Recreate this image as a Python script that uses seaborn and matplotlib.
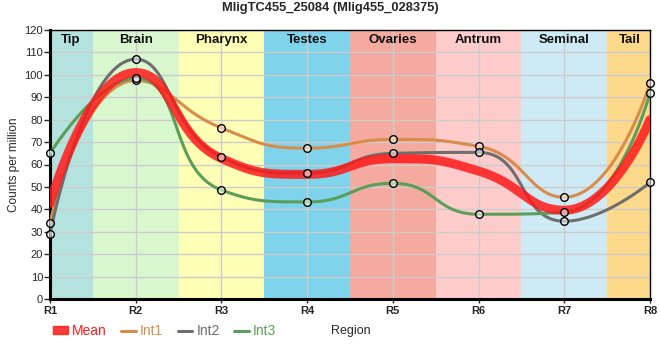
import numpy as np
import pandas as pd
import matplotlib
matplotlib.use("Agg")
import matplotlib.pyplot as plt
import seaborn as sns
from matplotlib.patches import Patch
from matplotlib.lines import Line2D

# data
regions = ["R1", "R2", "R3", "R4", "R5", "R6", "R7", "R8"]
mean_vals = [42.7, 101.0, 62.7, 55.6, 62.6, 57.1, 39.6, 80.0]
int1_vals = [34.0, 97.5, 76.3, 67.3, 71.2, 68.1, 45.4, 96.2]
int2_vals = [29.0, 107.0, 63.3, 56.1, 65.0, 65.4, 34.7, 52.0]
int3_vals = [65.0, 98.5, 48.6, 43.3, 51.6, 37.8, 38.7, 91.9]

band_names = ["Tip", "Brain", "Pharynx", "Testes", "Ovaries", "Antrum", "Seminal", "Tail"]
band_colors = ["#b4e2de", "#d9f7cf", "#ffffb5", "#7fd4ec", "#f4aa9e", "#ffcccc", "#ceeaf5", "#fdd98b"]

c_mean, c_int1, c_int2, c_int3 = "#ff1a1a", "#d98c4a", "#6e6e6e", "#5a9e5a"


def smooth_path(ax, xd, yd, smooth=0.5, n=40):
    # bezier smoothing done in pixel space, control points clamped
    # so the curve never overshoots a point (flat at local extremes)
    pts = ax.transData.transform(np.column_stack([xd, yd]))
    X, Y = pts[:, 0], pts[:, 1]
    out = [pts[:1]]
    cp0 = pts[0].copy()
    t = np.linspace(0, 1, n)[1:, None]
    for i in range(1, len(pts)):
        x, y = X[i], Y[i]
        px, py = X[i - 1], Y[i - 1]
        if i == len(pts) - 1:
            cp1 = np.array([x, y])
            ncp0 = None
        else:
            nx, ny = X[i + 1], Y[i + 1]
            vx, vy = nx - px, ny - py
            lp = np.hypot(x - px, y - py)
            ln = np.hypot(nx - x, ny - y)
            r = ln / (ln + lp)
            ncx = x + vx * smooth * r
            ncy = y + vy * smooth * r
            ncx = max(min(ncx, max(nx, x)), min(nx, x))
            ncy = max(min(ncy, max(ny, y)), min(ny, y))
            vx, vy = ncx - x, ncy - y
            c1x = x - vx * lp / ln
            c1y = y - vy * lp / ln
            c1x = max(min(c1x, max(px, x)), min(px, x))
            c1y = max(min(c1y, max(py, y)), min(py, y))
            vx, vy = x - c1x, y - c1y
            cp1 = np.array([c1x, c1y])
            ncp0 = np.array([x + vx * ln / lp, y + vy * ln / lp])
        p0 = np.array([px, py])
        p1 = np.array([x, y])
        seg = (1 - t) ** 3 * p0 + 3 * (1 - t) ** 2 * t * cp0 + 3 * (1 - t) * t ** 2 * cp1 + t ** 3 * p1
        out.append(seg)
        cp0 = ncp0
    d = ax.transData.inverted().transform(np.vstack(out))
    return d[:, 0], d[:, 1]


sns.set_theme(style="white")
plt.rcParams["font.family"] = ["Liberation Sans", "DejaVu Sans"]

fig = plt.figure(figsize=(6.6, 3.6), dpi=100)
ax = fig.add_axes([50 / 660, 61 / 360, 600 / 660, 269 / 360])

pos = np.arange(len(regions))
ax.set_xlim(0, len(regions) - 1)
ax.set_ylim(0, 120)

# coloured region bands
for i, (name, col) in enumerate(zip(band_names, band_colors)):
    ax.axvspan(max(i - 0.5, 0), min(i + 0.5, len(regions) - 1), color=col, lw=0, zorder=0)
    lx = i if 0 < i < 7 else (0.245 if i == 0 else 6.77)
    ax.text(lx, 115.6, name, ha="center", va="center",
            fontsize=9.5, fontweight="bold", color="#111111", zorder=5)

ax.set_axisbelow(True)
ax.grid(True, color="#cccccc", lw=1)

series = [("Int1", int1_vals, c_int1), ("Int2", int2_vals, c_int2), ("Int3", int3_vals, c_int3)]
for name, vals, col in series:
    xs, ys = smooth_path(ax, pos, vals)
    sns.lineplot(x=xs, y=ys, ax=ax, color=col, lw=2.2, sort=False, zorder=3)

xs, ys = smooth_path(ax, pos, mean_vals)
sns.lineplot(x=xs, y=ys, ax=ax, color=c_mean, lw=6.5, alpha=0.85, sort=False, zorder=4)

pts = pd.DataFrame({
    "x": np.tile(pos, 3),
    "y": int1_vals + int2_vals + int3_vals,
})
sns.scatterplot(data=pts, x="x", y="y", ax=ax, s=30, color=(1, 1, 1, 0.55), edgecolor="black",
                linewidth=1, zorder=6, clip_on=False)

ax.set_xticks(pos)
ax.set_xticklabels(regions, fontsize=8, fontweight="bold")
ax.set_yticks(range(0, 121, 10))
ax.tick_params(axis="y", labelsize=8, length=4, width=1, pad=1, left=True)
ax.tick_params(axis="x", length=3, width=1, pad=2, bottom=True)

for side in ["left", "bottom"]:
    ax.spines[side].set_linewidth(2.2)
    ax.spines[side].set_color("black")
for side in ["top", "right"]:
    ax.spines[side].set_linewidth(1)
    ax.spines[side].set_color("black")

ax.set_ylabel("Counts per million", fontsize=8.5)
ax.yaxis.set_label_coords(-0.05, 0.5)
ax.set_xlabel("Region", fontsize=9)
ax.xaxis.label.set_va("center")
ax.xaxis.set_label_coords(0.502, -0.119)

fig.suptitle("MligTC455_25084 (Mlig455_028375)", x=0.5, y=1 - 8 / 360, va="center",
             fontsize=9.25, fontweight="bold")

handles = [Patch(color=c_mean, alpha=0.85),
           Line2D([], [], color=c_int1, lw=2.2),
           Line2D([], [], color=c_int2, lw=2.2),
           Line2D([], [], color=c_int3, lw=2.2)]
fig.legend(handles, ["Mean", "Int1", "Int2", "Int3"], loc="center left",
           bbox_to_anchor=(53 / 660, 1 - 331 / 360), ncol=4, frameon=False, fontsize=10,
           labelcolor=[c_mean, c_int1, c_int2, c_int3], handlelength=1.05, handleheight=0.5,
           handletextpad=0.3, columnspacing=1.05, borderpad=0, borderaxespad=0)

fig.savefig("out.png", dpi=100)
